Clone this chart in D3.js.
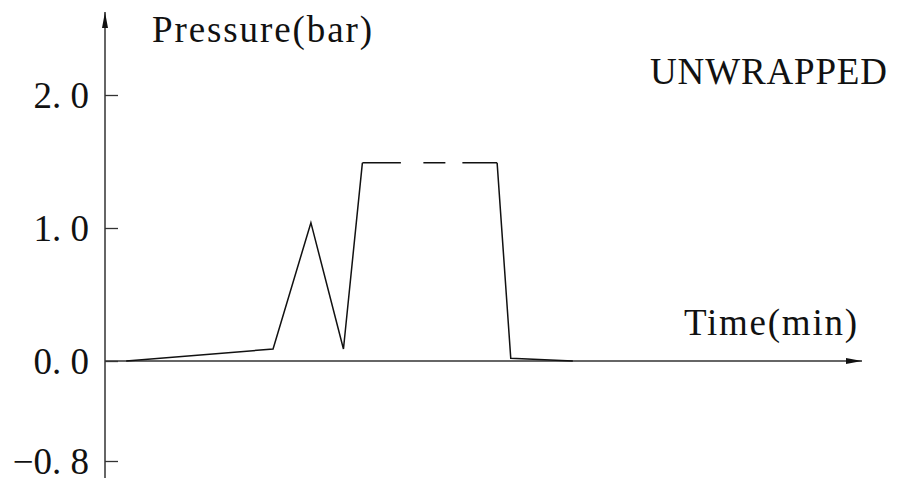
<!DOCTYPE html>
<html>
<head>
<meta charset="utf-8">
<script src="https://cdn.jsdelivr.net/npm/d3@7"></script>
<style>
  body { margin: 0; background: #fff; }
  svg text { font-family: "Liberation Serif", "Times New Roman", serif; fill: #111; }
</style>
</head>
<body>
<div id="chart"></div>
<script>
// time (arbitrary minutes) and pressure (bar)
var riseTime      = [2.8, 22.2, 27.2, 31.5, 34.0];
var risePressure  = [0.0, 0.09, 1.04, 0.09, 1.49];
var holdTime      = [34.0, 51.8];
var holdPressure  = [1.49, 1.49];
var fallTime      = [51.8, 53.6, 61.8];
var fallPressure  = [1.49, 0.02, 0.0];
var tickValues    = [2.0, 1.0, 0.0, -0.8];
var tickLabels    = ["2. 0", "1. 0", "0. 0", "\u22120. 8"];

var width = 899, height = 493;

var svg = d3.select("#chart").append("svg")
    .attr("width", width)
    .attr("height", height);

var defs = svg.append("defs");
defs.append("marker")
    .attr("id", "arrow")
    .attr("viewBox", "0 0 16 8")
    .attr("refX", 16)
    .attr("refY", 4)
    .attr("markerWidth", 16)
    .attr("markerHeight", 8)
    .attr("markerUnits", "userSpaceOnUse")
    .attr("orient", "auto")
  .append("path")
    .attr("d", "M0,1 L16,4 L0,7 Z")
    .attr("fill", "#111");

var x = d3.scaleLinear().domain([0, 100]).range([105, 862]);
// the drawing is schematic: negative side is a bit compressed
var y = d3.scaleLinear().domain([-0.8, 0, 2]).range([461, 361, 95]);

// y axis line with arrow
svg.append("line")
    .attr("x1", x(0)).attr("y1", 478)
    .attr("x2", x(0)).attr("y2", 12)
    .attr("stroke", "#333")
    .attr("stroke-width", 1.5)
    .attr("marker-end", "url(#arrow)");

// x axis line with arrow
svg.append("line")
    .attr("x1", x(0)).attr("y1", y(0))
    .attr("x2", x(100)).attr("y2", y(0))
    .attr("stroke", "#333")
    .attr("stroke-width", 1.5)
    .attr("marker-end", "url(#arrow)");

var yAxis = d3.axisLeft(y)
    .tickValues(tickValues)
    .tickSize(-13)
    .tickPadding(16)
    .tickFormat(function(d, i) { return tickLabels[i]; });

var gy = svg.append("g")
    .attr("transform", "translate(" + x(0) + ",0)")
    .call(yAxis);
gy.select(".domain").remove();
gy.selectAll(".tick line")
    .attr("stroke", "#333")
    .attr("stroke-width", 1.3);
gy.selectAll(".tick text")
    .attr("font-family", "Liberation Serif, serif")
    .attr("font-size", 37)
    .attr("fill", "#111")
    .attr("dy", "0.33em");

var line = d3.line()
    .x(function(d) { return x(d[0]); })
    .y(function(d) { return y(d[1]); });

function pairs(t, p) {
  return t.map(function(v, i) { return [v, p[i]]; });
}

svg.append("path")
    .datum(pairs(riseTime, risePressure))
    .attr("d", line)
    .attr("fill", "none")
    .attr("stroke", "#111")
    .attr("stroke-width", 1.5)
    .attr("stroke-linejoin", "miter");

svg.append("path")
    .datum(pairs(holdTime, holdPressure))
    .attr("d", line)
    .attr("fill", "none")
    .attr("stroke", "#111")
    .attr("stroke-width", 1.5)
    .attr("stroke-dasharray", "38.5,22.5,22,17,40");

svg.append("path")
    .datum(pairs(fallTime, fallPressure))
    .attr("d", line)
    .attr("fill", "none")
    .attr("stroke", "#111")
    .attr("stroke-width", 1.5);

// labels
svg.append("text")
    .attr("x", 152).attr("y", 42)
    .attr("font-size", 37)
    .attr("textLength", 220)
    .text("Pressure(bar)");

svg.append("text")
    .attr("x", 650).attr("y", 84)
    .attr("font-size", 37)
    .attr("textLength", 237)
    .text("UNWRAPPED");

svg.append("text")
    .attr("x", 684).attr("y", 335)
    .attr("font-size", 37)
    .attr("textLength", 173)
    .text("Time(min)");
</script>
</body>
</html>
